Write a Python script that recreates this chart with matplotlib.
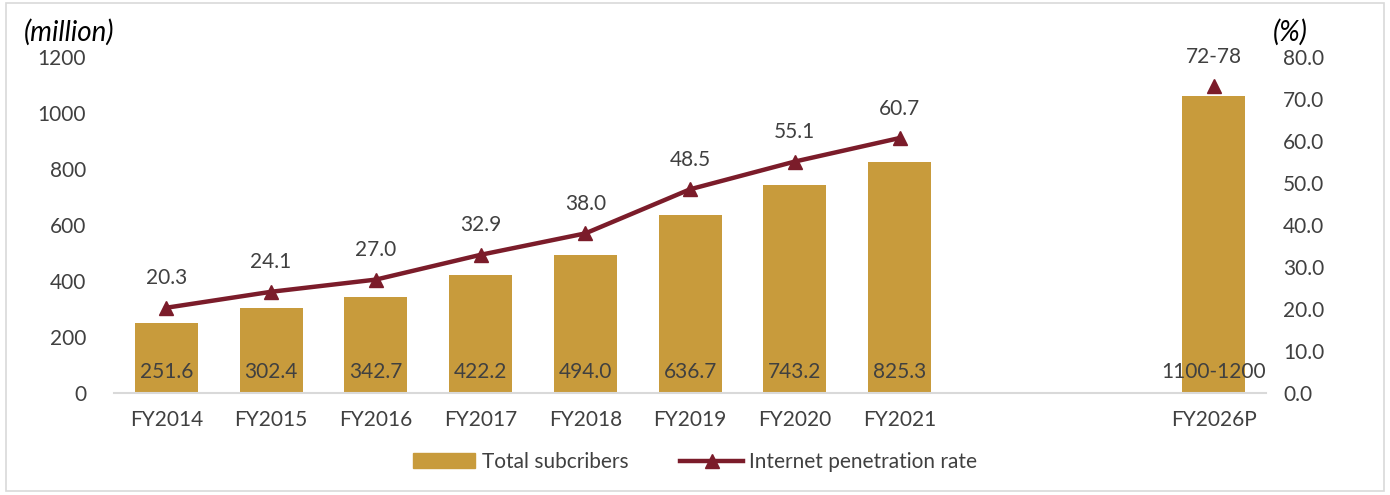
import numpy as np
import matplotlib.pyplot as plt
from matplotlib.patches import Rectangle
from matplotlib.lines import Line2D
from matplotlib.patches import Patch

plt.rcParams['font.family'] = ['Lato', 'DejaVu Sans']

categories = ['FY2014', 'FY2015', 'FY2016', 'FY2017', 'FY2018', 'FY2019',
              'FY2020', 'FY2021', '', '', 'FY2026P']
subscribers = [251.6, 302.4, 342.7, 422.2, 494.0, 636.7, 743.2, 825.3,
               np.nan, np.nan, 1060]
sub_labels = ['251.6', '302.4', '342.7', '422.2', '494.0', '636.7',
              '743.2', '825.3', '', '', '1100-1200']
penetration = [20.3, 24.1, 27.0, 32.9, 38.0, 48.5, 55.1, 60.7]
pen_labels = ['20.3', '24.1', '27.0', '32.9', '38.0', '48.5', '55.1', '60.7']
forecast_idx = 10
forecast_pen = 73
forecast_label = '72-78'

bar_color = '#C89B3C'
line_color = '#7B1C2A'
text_color = '#404040'

fig = plt.figure(figsize=(13.9, 4.95), dpi=100)
ax = fig.add_axes([0.082, 0.206, 0.829, 0.679])
ax2 = ax.twinx()

x = np.arange(len(categories))
ax.bar(x, subscribers, width=0.6, color=bar_color, zorder=2)
for xi, lab in zip(x, sub_labels):
    if lab:
        ax.text(xi, 40, lab, ha='center', va='bottom', fontsize=15,
                color=text_color, zorder=3)

xp = x[:len(penetration)]
ax2.plot(xp, penetration, color=line_color, lw=3.2, marker='^',
         markersize=10, zorder=4)
ax2.plot([forecast_idx], [forecast_pen], color=line_color, marker='^',
         markersize=10, ls='none', zorder=4)
for xi, v, lab in zip(xp, penetration, pen_labels):
    ax2.annotate(lab, (xi, v), xytext=(0, 14), textcoords='offset points',
                 ha='center', va='bottom', fontsize=15, color=text_color)
ax2.annotate(forecast_label, (forecast_idx, forecast_pen), xytext=(0, 14),
             textcoords='offset points', ha='center', va='bottom',
             fontsize=15, color=text_color)

ax.set_xlim(-0.5, len(categories) - 0.5)
ax.set_ylim(0, 1200)
ax2.set_ylim(0, 80)
ax.set_yticks(np.arange(0, 1201, 200))
ax2.set_yticks(np.arange(0, 81, 10))
ax2.set_yticklabels([f'{v:.1f}' for v in np.arange(0, 81, 10)])
ax.set_xticks(x)
ax.set_xticklabels(categories)

for a in (ax, ax2):
    for s in a.spines.values():
        s.set_visible(False)
    a.tick_params(length=0, labelsize=15, colors=text_color, pad=8)
ax.spines['bottom'].set_visible(True)
ax.spines['bottom'].set_color('#D9D9D9')
ax.spines['bottom'].set_linewidth(1.5)
ax.tick_params(axis='x', pad=12)
ax.tick_params(axis='y', pad=20)
ax2.tick_params(axis='y', pad=12)

fig.text(0.017, 0.935, '(million)', style='italic', fontsize=20,
         color='black', va='center')
fig.text(0.916, 0.935, '(%)', style='italic', fontsize=20,
         color='black', va='center')

handles = [Patch(color=bar_color),
           Line2D([], [], color=line_color, lw=3.2, marker='^', markersize=10)]
fig.legend(handles, ['Total subcribers', 'Internet penetration rate'],
           loc='center', bbox_to_anchor=(0.5, 0.067), ncol=2, frameon=False,
           fontsize=15, labelcolor=text_color, handlelength=3,
           handletextpad=0.3, columnspacing=2.5)

fig.patches.append(Rectangle((0.004, 0.008), 0.992, 0.986, transform=fig.transFigure,
                             fill=False, edgecolor='#D9D9D9', lw=1.2))

fig.savefig('out.png', dpi=100)
